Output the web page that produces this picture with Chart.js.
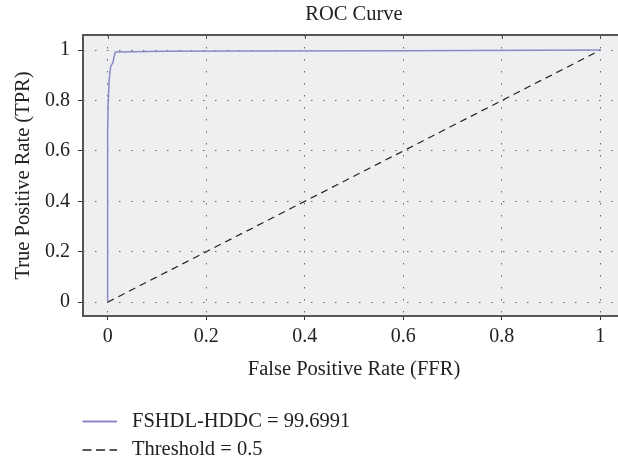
<!DOCTYPE html>
<html lang="en">
<head>
    <meta charset="UTF-8">
    <title>ROC Curve</title>
    <script src="https://cdn.jsdelivr.net/npm/chart.js"></script>
    <style>
        html, body {
            margin: 0;
            padding: 0;
            background-color: white;
            overflow: hidden;
        }
        #rocChart {
            display: block;
        }
    </style>
</head>
<body>
    <canvas id="rocChart" width="640" height="461"></canvas>
    <script>
        // ROC curve points
        const rocFpr = [0, 0, 0.001, 0.003, 0.006, 0.011, 0.013, 0.016, 0.05, 0.114, 0.3, 0.6, 1];
        const rocTpr = [0, 0.68, 0.78, 0.88, 0.934, 0.952, 0.974, 0.993, 0.994, 0.996, 0.997, 0.998, 1];

        // chance line
        const thrFpr = [0, 1];
        const thrTpr = [0, 1];

        const seriesLabels = ['FSHDL-HDDC = 99.6991', 'Threshold = 0.5'];
        const xTicks = [0, 0.2, 0.4, 0.6, 0.8, 1];
        const yTicks = [0, 0.2, 0.4, 0.6, 0.8, 1];
        const xTickLabels = ['0', '0.2', '0.4', '0.6', '0.8', '1'];
        const yTickLabels = ['0', '0.2', '0.4', '0.6', '0.8', '1'];

        const FONT = "'Liberation Serif', 'DejaVu Serif', serif";
        const TEXT = '#222';

        function toPoints(xs, ys) {
            return xs.map((x, i) => ({ x: x, y: ys[i] }));
        }

        // grey plot background
        const plotBackground = {
            id: 'plotBackground',
            beforeDraw(chart) {
                const { ctx, chartArea } = chart;
                ctx.save();
                ctx.fillStyle = '#eeeff1';
                ctx.fillRect(chartArea.left, chartArea.top, chartArea.right - chartArea.left, chartArea.bottom - chartArea.top);
                ctx.restore();
            }
        };

        // box frame plus the inner ticks on the top edge
        const plotFrame = {
            id: 'plotFrame',
            afterDraw(chart) {
                const { ctx, chartArea } = chart;
                const xs = chart.scales.x;
                ctx.save();
                ctx.strokeStyle = '#555';
                ctx.lineWidth = 1;
                xTicks.forEach(v => {
                    const px = Math.round(xs.getPixelForValue(v)) + 0.5;
                    ctx.beginPath();
                    ctx.moveTo(px, chartArea.top);
                    ctx.lineTo(px, chartArea.top + 4);
                    ctx.stroke();
                });
                ctx.lineWidth = 2;
                ctx.beginPath();
                ctx.moveTo(chartArea.right + 20, chartArea.top);
                ctx.lineTo(chartArea.left, chartArea.top);
                ctx.lineTo(chartArea.left, chartArea.bottom);
                ctx.lineTo(chartArea.right + 20, chartArea.bottom);
                ctx.stroke();
                ctx.restore();
            }
        };

        // legend stacked below the axis title
        const stackedLegend = {
            id: 'stackedLegend',
            afterDraw(chart) {
                const { ctx } = chart;
                const rows = [421.5, 450];
                ctx.save();
                ctx.font = '20.5px ' + FONT;
                ctx.fillStyle = TEXT;
                ctx.textBaseline = 'middle';
                chart.data.datasets.forEach((ds, i) => {
                    const y = rows[i];
                    ctx.strokeStyle = ds.borderColor;
                    ctx.lineWidth = ds.legendWidth;
                    ctx.setLineDash(ds.legendDash);
                    ctx.beginPath();
                    ctx.moveTo(82.5, y);
                    ctx.lineTo(117, y);
                    ctx.stroke();
                    ctx.setLineDash([]);
                    ctx.fillText(ds.label, 132, y);
                });
                ctx.restore();
            }
        };

        new Chart(document.getElementById('rocChart'), {
            type: 'scatter',
            data: {
                datasets: [{
                    label: seriesLabels[0],
                    data: toPoints(rocFpr, rocTpr),
                    showLine: true,
                    borderColor: '#8d89c9',
                    borderWidth: 1.5,
                    pointRadius: 0,
                    legendDash: [],
                    legendWidth: 2
                }, {
                    label: seriesLabels[1],
                    data: toPoints(thrFpr, thrTpr),
                    showLine: true,
                    borderColor: '#222',
                    borderWidth: 1.2,
                    borderDash: [7, 5],
                    pointRadius: 0,
                    legendDash: [9, 4.5],
                    legendWidth: 1.5
                }]
            },
            options: {
                responsive: false,
                animation: false,
                layout: {
                    padding: { left: 0, right: 15, top: 0, bottom: 75 }
                },
                plugins: {
                    legend: { display: false },
                    tooltip: { enabled: false },
                    title: {
                        display: true,
                        fullSize: false,
                        text: 'ROC Curve',
                        color: TEXT,
                        font: { family: FONT, size: 20.5, weight: 'normal' },
                        padding: { top: 2, bottom: 8.4 }
                    }
                },
                scales: {
                    x: {
                        type: 'linear',
                        min: -0.05,
                        max: 1.05,
                        afterBuildTicks: s => { s.ticks = xTicks.map(v => ({ value: v })); },
                        afterFit: s => { s.height = 70; },
                        ticks: {
                            color: TEXT,
                            padding: 5,
                            maxRotation: 0,
                            font: { family: FONT, size: 20 },
                            callback: (v) => xTickLabels[xTicks.indexOf(v)]
                        },
                        grid: {
                            color: '#666',
                            lineWidth: 1,
                            tickLength: 4,
                            tickColor: '#333'
                        },
                        border: { display: false, dash: [1.5, 10.5] },
                        title: {
                            display: true,
                            text: 'False Positive Rate (FFR)',
                            color: TEXT,
                            font: { family: FONT, size: 20.5 },
                            padding: { top: 2, bottom: 4.5 }
                        }
                    },
                    y: {
                        type: 'linear',
                        min: -0.055,
                        max: 1.06,
                        afterBuildTicks: s => { s.ticks = yTicks.map(v => ({ value: v })); },
                        afterFit: s => { s.width = 83; },
                        ticks: {
                            color: TEXT,
                            padding: 8,
                            font: { family: FONT, size: 20 },
                            callback: (v) => yTickLabels[yTicks.indexOf(v)]
                        },
                        grid: {
                            color: '#666',
                            lineWidth: 1,
                            tickLength: 5,
                            tickColor: '#333'
                        },
                        border: { display: false, dash: [1.5, 10.5] },
                        title: {
                            display: true,
                            text: 'True Positive Rate (TPR)',
                            color: TEXT,
                            font: { family: FONT, size: 20.5 },
                            padding: { top: 11, bottom: 2 }
                        }
                    }
                }
            },
            plugins: [plotBackground, plotFrame, stackedLegend]
        });
    </script>
</body>
</html>
